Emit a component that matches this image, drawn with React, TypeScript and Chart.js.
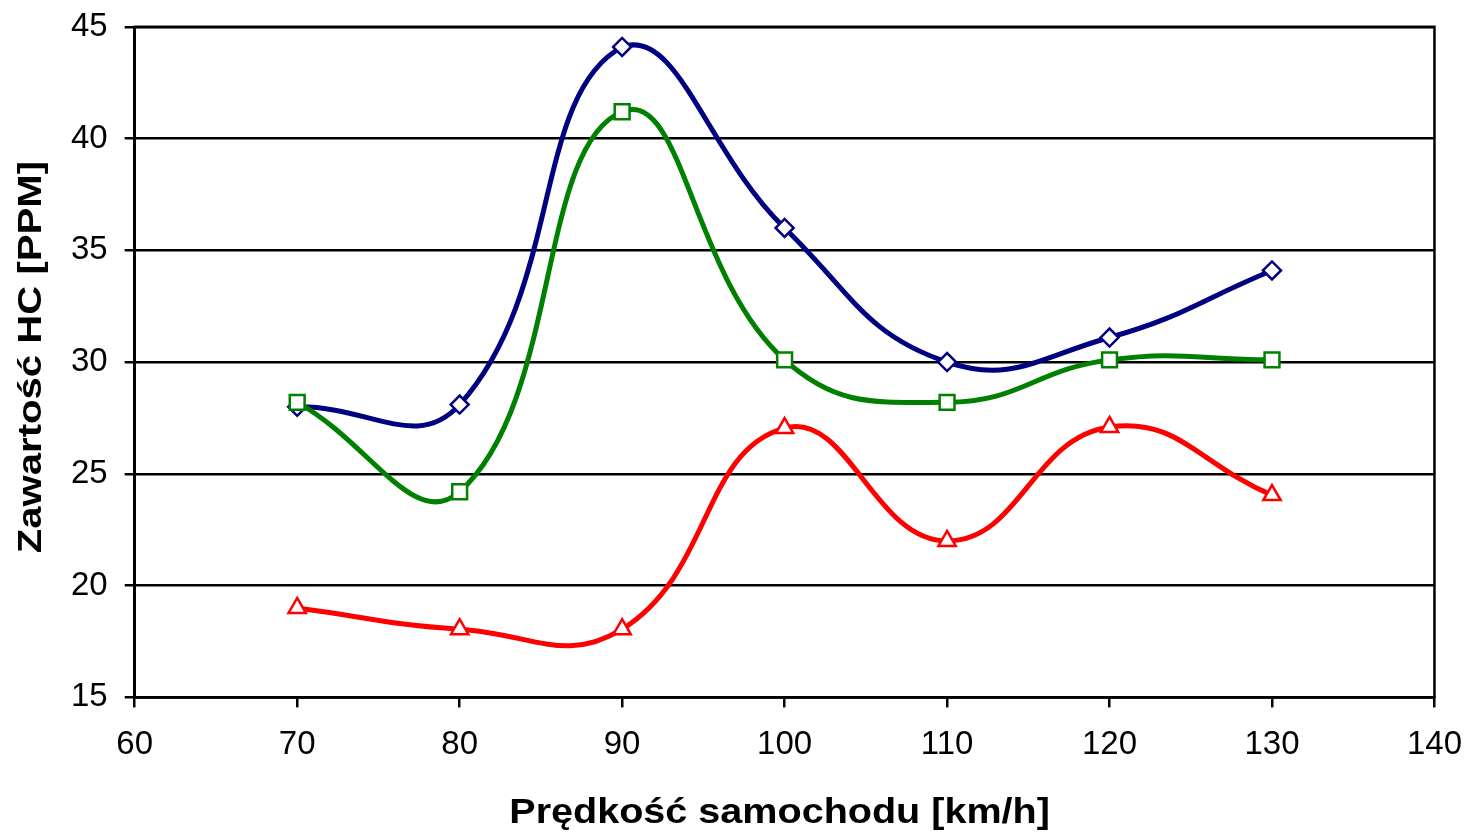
import React, { useEffect, useRef } from "react";
import { Chart, registerables } from "chart.js";

Chart.register(...registerables);

const speeds = [70, 80, 90, 100, 110, 120, 130];
const seriesBlue = [28, 28.1, 44.1, 36, 30, 31.1, 34.1];
const seriesGreen = [28.2, 24.2, 41.2, 30.1, 28.2, 30.1, 30.1];
const seriesRed = [19, 18.05, 18.05, 27.05, 22, 27.1, 24.05];

const xTitle = "Prędkość samochodu [km/h]";
const yTitle = "Zawartość HC [PPM]";

const FONT = "Arial, 'Liberation Sans', sans-serif";

// canvas is a little larger than the page and shifted up, so the plot box sits where it does in the reference
const SHIFT_Y = 10;
const EXTRA_W = 16;

const frame = {
  id: "frame",
  beforeDatasetsDraw(chart: any) {
    const { ctx, chartArea } = chart;
    ctx.save();
    ctx.strokeStyle = "#000";
    ctx.lineWidth = 2.5;
    ctx.strokeRect(chartArea.left, chartArea.top, chartArea.right - chartArea.left, chartArea.bottom - chartArea.top);
    ctx.restore();
  },
};

// Axis titles drawn with the reference's stretched letter shapes
const titles = {
  id: "titles",
  afterDraw(chart: any) {
    const { ctx, chartArea } = chart;
    ctx.save();
    ctx.fillStyle = "#000";
    ctx.textAlign = "center";
    ctx.textBaseline = "alphabetic";
    // x title
    ctx.save();
    ctx.translate((chartArea.left + chartArea.right) / 2 - 5, 823 + SHIFT_Y);
    ctx.scale(1.13, 1);
    ctx.font = `bold 35px ${FONT}`;
    ctx.fillText(xTitle, 0, 0);
    ctx.restore();
    // y title
    ctx.save();
    ctx.translate(41, (chartArea.top + chartArea.bottom) / 2 - 5);
    ctx.rotate(-Math.PI / 2);
    ctx.scale(1.18, 1);
    ctx.font = `bold 34px ${FONT}`;
    ctx.fillText(yTitle, 0, 0);
    ctx.restore();
    ctx.restore();
  },
};

function toPts(vals: number[]) {
  return speeds.map((x, i) => ({ x, y: vals[i] }));
}

export default function App() {
  const ref = useRef<HTMLCanvasElement>(null);
  useEffect(() => {
    document.body.style.margin = "0";
    const mk = (
      data: number[],
      color: string,
      style: any,
      radius: number,
      order: number
    ) => ({
      data: toPts(data),
      showLine: true,
      borderColor: color,
      borderWidth: 5,
      pointStyle: style,
      pointRadius: radius,
      pointBorderWidth: 2.5,
      pointBorderColor: color,
      pointBackgroundColor: "#fff",
      tension: 0.45,
      order,
    });
    const chart = new Chart(ref.current!, {
      type: "scatter",
      data: {
        datasets: [
          mk(seriesBlue, "#000080", "rectRot", 9, 3),
          mk(seriesGreen, "#008000", "rect", 10.5, 2),
          mk(seriesRed, "#ff0000", "triangle", 10, 1),
        ] as any,
      },
      options: {
        animation: false,
        responsive: false,
        events: [],
        layout: { padding: { top: 0, right: 0, left: 54, bottom: 52 } },
        plugins: { legend: { display: false }, tooltip: { enabled: false } },
        scales: {
          x: {
            type: "linear",
            min: 60,
            max: 140,
            ticks: { stepSize: 10, color: "#000", font: { family: FONT, size: 33 }, padding: 18 },
            grid: { drawOnChartArea: false, color: "#000", tickColor: "#000", tickLength: 10, lineWidth: 2.5 },
            border: { color: "#000", width: 2.5 },
          },
          y: {
            min: 15,
            max: 45,
            ticks: { stepSize: 5, color: "#000", font: { family: FONT, size: 33 }, padding: 17 },
            grid: { color: "#000", tickColor: "#000", tickLength: 10, lineWidth: 2.5 },
            border: { color: "#000", width: 2.5 },
          },
        },
      },
      plugins: [frame, titles],
    });
    return () => chart.destroy();
  }, []);
  return (
    <div style={{ width: 1464, height: 835, background: "#fff", overflow: "hidden", position: "relative" }}>
      <canvas
        ref={ref}
        width={1464 + EXTRA_W}
        height={835 + SHIFT_Y}
        style={{ display: "block", position: "absolute", left: 0, top: -SHIFT_Y }}
      />
    </div>
  );
}
